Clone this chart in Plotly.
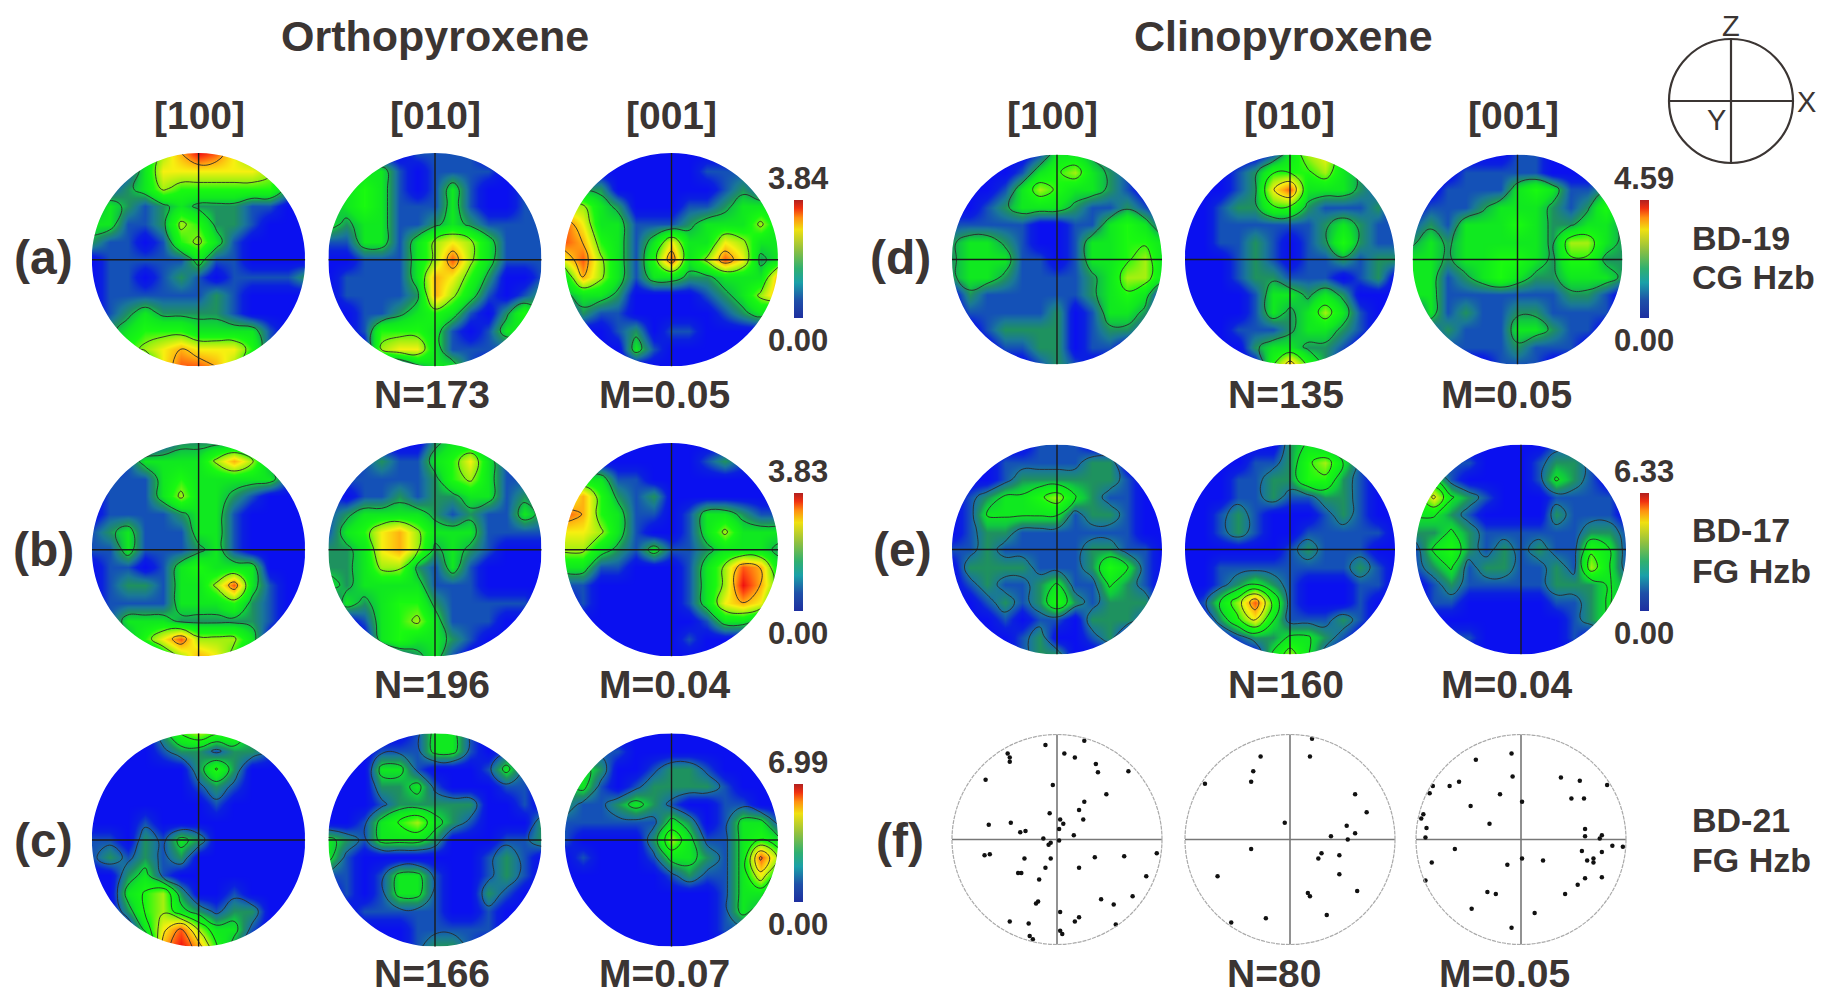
import numpy as np
import plotly.graph_objects as go

# the page body keeps an 8px margin, so the figure is that much smaller than the window
OFF = 8
W, H = 1827 - OFF, 999 - OFF

# density on a 13x13 net, top row first, as tenths-ish of each row's max (0-9)
A_100 = ["0003579864200","0013666666530","1123544444421","2321232221100","3311254221000","2110145310000",
         "0111113110000","0110121011112","0111111210000","0123222210000","0234443333100","0145676664100","0002688752000"]
A_010 = ["0000011110000","0033101111000","1343101310010","2343111310011","3233112321111","1133135653111",
         "0011135853111","0111137642001","0111127531012","0011234310242","0014443101330","0005663111100","0000023310000"]
A_001 = ["0000000000000","0000000011100","0220000001210","5532000112333","8633111233353","8743136336533",
         "6853148358623","3753133223337","2332000012357","0211000001231","0001201100000","0000310000000","0000000000000"]
B_100 = ["0000122221000","0013333575200","0111343333310","0111353321000","0111123310000","1231113310000",
         "1131112310000","0110134333000","0122133583100","0111133342100","0133322222100","0024685553000","0000357642000"]
B_010 = ["0000002331000","0012113463100","0111112453110","1011212233121","1233332121132","1346753331111",
         "2236752321000","2235521310000","3233331110000","0323442111110","0013453111000","0003433210000","0000123100000"]
B_001 = ["0000000000000","0000000012100","1331100000000","5742120000000","8743110133211","6653100135333",
         "5532131123332","3311000135873","1100000135974","0100000136762","0000000013320","0000000100000","0000000000000"]
C_100 = ["0000245442000","0000122122100","0000002420000","0000001210000","0000000100000","0001000000000",
         "1102132000000","1212120000000","0023100000000","0034520010000","0024532122000","0003685331000","0000797420000"]
C_010 = ["0000013310000","0001113310110","0003310001310","0002231000110","0001222220010","0013453210002",
         "3213332000112","3100000001210","1101331001210","0101331002100","0011111001000","0000011111000","0000012210000"]
C_001 = ["0000000000000","0011000000000","0320012210000","2310122221000","2112321001100","1111113201331",
         "1000025311343","0100013321385","0000001211363","0000000001331","0000000001320","0000000001100","0000000000000"]
D_100 = ["0000013321000","0000134532100","0001354332100","0012333211210","1111100113431","2332100133443",
         "2333110133453","2332111123553","0211111123430","0111112013320","0012222012210","0001122011000","0000012100000"]
D_010 = ["0000013563000","0001244453200","0001268333210","0012244211120","0011111123211","0011210124211",
         "0001210112122","0001221110120","0000133232000","0000132353100","0001112332100","0000233221000","0000047420000"]
D_001 = ["0000001100000","0001111100000","0011113431121","0111233321242","1213334322332","2323333325532",
         "3323344324422","3312343223332","3311111112210","0312112211110","0121113321100","0011112111000","0000011100000"]
E_100 = ["0000011100000","0001111122000","0001222222100","0123345321100","0133333122100","0122111111100",
         "1121111122110","0222211124310","0121123113210","0012124212220","0001011022210","0000120012000","0000122000000"]
E_010 = ["0000002321000","0000112453100","0001122442100","0001121122100","0012100012100","0012100111110",
         "0000001211100","0011111111210","0012321000110","0135841000100","0024631112100","0001223321000","0000035310000"]
E_001 = ["0000000011000","0011000122100","1310000132100","3632100011110","3321000021110","2232111111221",
         "1342121211431","1231221121531","0121111122232","0110000011232","0000000001230","0011000001000","0000000000000"]

# pole positions for the BD-21 panel, percent of net radius
F_100_X = [-11,26,-47,-45,-45,7,17,37,39,68,-68,-4,47,26,21,-7,3,6,25,2,-65,-44,-35,-30,16,-13,2,-6,-8,95,-64,-69,-31,-6,36,64,-11,21,-37,-34,-17,85,72,-18,-20,42,54,3,21,17,-45,-27,56,-26,-23,3,5]
F_100_Y = [90,94,82,78,74,82,78,72,64,65,57,52,43,36,28,25,19,15,19,10,14,16,7,8,4,1,-1,-3,-5,-13,-14,-15,-18,-18,-17,-16,-27,-27,-32,-32,-38,-35,-54,-59,-61,-57,-62,-69,-74,-78,-78,-80,-81,-92,-95,-87,-90]
F_010_X = [21,-28,19,-35,-37,-81,62,73,-5,54,62,39,55,-37,30,27,47,-69,47,64,17,19,35,-23,-56]
F_010_Y = [96,79,79,65,55,53,43,26,16,13,6,3,0,-9,-13,-18,-15,-35,-33,-49,-51,-54,-72,-75,-79]
F_001_X = [-9,-43,-8,38,56,82,-59,-68,-84,-87,-20,48,60,1,-48,-93,-95,-30,-90,-91,61,61,77,75,-63,87,97,58,77,69,63,69,1,21,-85,-13,77,61,54,42,-91,-32,-24,-47,13,-9]
F_001_Y = [82,76,60,59,56,52,55,51,51,44,43,39,39,36,32,24,20,15,11,2,10,3,4,1,-9,-6,-7,-11,-12,-18,-20,-22,-18,-20,-22,-24,-36,-37,-43,-52,-39,-50,-52,-66,-70,-84]

MAX_ABC = [3.84, 3.83, 6.99]
MAX_DE = [4.59, 6.33]

map_scale = [[0, "#0a10f0"], [0.06, "#0a20e0"], [0.11, "#1450b8"], [0.16, "#1a7898"], [0.22, "#1f9060"], [0.27, "#10c840"], [0.33, "#10e820"], [0.44, "#18fa10"],
             [0.55, "#a0f010"], [0.67, "#f8f010"], [0.78, "#ffb010"], [0.9, "#ff5010"], [1, "#f01010"]]
bar_scale = [[0, "#1e2fa0"], [0.15, "#1f50a8"], [0.3, "#1aa0a8"], [0.42, "#30b070"], [0.58, "#90c040"], [0.75, "#f0e010"],
             [0.85, "#ff9010"], [0.93, "#f03010"], [1, "#b02020"]]

TXT = "#3b3533"
FONT = "Liberation Sans"

fig = go.Figure()
axis_n = 0


def new_axes(cx, cy, r, pad=1.04):
    # a square axes centred on pixel (cx, cy) where data radius 1 is r pixels
    global axis_n
    axis_n += 1
    s = "" if axis_n == 1 else str(axis_n)
    cx, cy = cx - OFF, cy - OFF
    fig.layout["xaxis" + s] = dict(domain=[(cx - pad * r) / W, (cx + pad * r) / W], range=[-pad, pad], visible=False, anchor="y" + s)
    fig.layout["yaxis" + s] = dict(domain=[1 - (cy + pad * r) / H, 1 - (cy - pad * r) / H], range=[-pad, pad], visible=False, anchor="x" + s)
    return "x" + s, "y" + s


def circle_mask(xref, yref, pad=1.04):
    k = 0.5523
    p = (f"M{-pad},{-pad} L{pad},{-pad} L{pad},{pad} L{-pad},{pad} Z "
         f"M1,0 C1,{k} {k},1 0,1 C{-k},1 -1,{k} -1,0 C-1,{-k} {-k},-1 0,-1 C{k},-1 1,{-k} 1,0 Z")
    fig.add_shape(type="path", path=p, xref=xref, yref=yref, fillcolor="white", line=dict(width=0), layer="above")


def cross(xa, ya, color, width):
    fig.add_trace(go.Scatter(x=[-1, 1, None, 0, 0], y=[0, 0, None, -1, 1], mode="lines", line=dict(color=color, width=width),
                             xaxis=xa, yaxis=ya, hoverinfo="skip", showlegend=False))


def density_panel(rows, vmax, cx, cy, r, start=1):
    for row in rows:
        assert len(row) == 13, row
    xa, ya = new_axes(cx, cy, r)
    net = np.linspace(-1, 1, 13)
    z = [[int(c) / 9 * vmax for c in row] for row in rows[::-1]]
    fig.add_trace(go.Contour(x=net, y=net, z=z, zmin=0, zmax=vmax, colorscale=map_scale, showscale=False,
                             contours=dict(coloring="heatmap", start=start, end=vmax, size=1),
                             line=dict(color="#2a2a2a", width=0.9, smoothing=1.3), xaxis=xa, yaxis=ya))
    circle_mask(xa, ya)
    cross(xa, ya, "#1a1a1a", 1.4)


def scatter_panel(px, py, cx, cy, r):
    xa, ya = new_axes(cx, cy, r)
    fig.add_shape(type="circle", x0=-1, y0=-1, x1=1, y1=1, xref=xa, yref=ya, line=dict(color="#aaaaaa", width=1.2, dash="4px,1px"))
    cross(xa, ya, "#777777", 1.6)
    fig.add_trace(go.Scatter(x=np.array(px) / 100, y=np.array(py) / 100, mode="markers", marker=dict(color="#111111", size=4.5),
                             xaxis=xa, yaxis=ya, showlegend=False))


def colorbar(vmax, x, y0, y1, thick=9):
    xa, ya = new_axes(x, y0, 1)
    fig.add_trace(go.Scatter(x=[0, 0], y=[0, 0], mode="markers", xaxis=xa, yaxis=ya, showlegend=False, opacity=0,
                             marker=dict(color=[0, vmax], cmin=0, cmax=vmax, colorscale=bar_scale, showscale=True,
                                         colorbar=dict(x=(x - OFF) / W, xanchor="left", xpad=0, y=1 - (y1 - OFF) / H, yanchor="bottom", ypad=0,
                                                       len=y1 - y0, lenmode="pixels", thickness=thick, thicknessmode="pixels",
                                                       outlinewidth=0, showticklabels=False, ticks=""))))


def label(x, y, text, size, bold=True, anchor="center", color=TXT):
    t = f"<b>{text}</b>" if bold else text
    fig.add_annotation(x=(x - OFF) / W, y=1 - (y - OFF) / H, xref="paper", yref="paper", text=t, showarrow=False, xanchor=anchor, yanchor="middle",
                       font=dict(family=FONT, size=size, color=color))


# Orthopyroxene
for rows, vmax, cy in zip([[A_100, A_010, A_001], [B_100, B_010, B_001], [C_100, C_010, C_001]], MAX_ABC, [259.7, 549.7, 840]):
    for g, cx in zip(rows, [198.6, 435, 671.5]):
        density_panel(g, vmax, cx, cy, 106.7)

# Clinopyroxene
density_panel(D_100, MAX_DE[0], 1057, 259.5, 105, start=1.15)
density_panel(D_010, MAX_DE[0], 1290, 259.5, 105, start=1.15)
density_panel(D_001, MAX_DE[0], 1517.5, 259.5, 105, start=1.15)
density_panel(E_100, MAX_DE[1], 1057, 549.5, 105)
density_panel(E_010, MAX_DE[1], 1290, 549.5, 105)
density_panel(E_001, MAX_DE[1], 1521, 549.5, 105)
scatter_panel(F_100_X, F_100_Y, 1057, 839.5, 105)
scatter_panel(F_010_X, F_010_Y, 1290, 839.5, 105)
scatter_panel(F_001_X, F_001_Y, 1521, 839.5, 105)

colorbar(MAX_ABC[0], 794, 200, 318)
colorbar(MAX_ABC[1], 794, 493, 611)
colorbar(MAX_ABC[2], 794, 784, 902)
colorbar(MAX_DE[0], 1640, 200, 318)
colorbar(MAX_DE[1], 1640, 493, 611)

# coordinate key at top right
xa, ya = new_axes(1731, 101, 62)
fig.add_shape(type="circle", x0=-1, y0=-1, x1=1, y1=1, xref=xa, yref=ya, line=dict(color=TXT, width=2.2))
cross(xa, ya, TXT, 2.2)

label(435, 36, "Orthopyroxene", 43)
label(1283, 36, "Clinopyroxene", 43)
for x, t in zip([199, 435, 671, 1052, 1289, 1513], ["[100]", "[010]", "[001]"] * 2):
    label(x, 115, t, 39)
for x, y, t in zip([43, 43, 43, 900, 902, 900], [258, 549, 840, 258, 549, 840], ["(a)", "(b)", "(c)", "(d)", "(e)", "(f)"]):
    label(x, y, t, 48)
for x, y, t in [(432, 394, "N=173"), (664, 394, "M=0.05"), (432, 684, "N=196"), (664, 684, "M=0.04"), (432, 973, "N=166"), (664, 973, "M=0.07"),
                (1286, 394, "N=135"), (1506, 394, "M=0.05"), (1286, 684, "N=160"), (1506, 684, "M=0.04"), (1274, 973, "N=80"), (1504, 973, "M=0.05")]:
    label(x, y, t, 39)
for x, ytop, ybot, vtop in [(798, 179, 341, "3.84"), (798, 471, 633, "3.83"), (798, 762, 924, "6.99"), (1644, 179, 341, "4.59"), (1644, 471, 633, "6.33")]:
    label(x, ytop, vtop, 31)
    label(x, ybot, "0.00", 31)
for y, t in [(238, "BD-19"), (277, "CG Hzb"), (530, "BD-17"), (571, "FG Hzb"), (820, "BD-21"), (860, "FG Hzb")]:
    label(1690, y, t, 34, anchor="left")
label(1731, 26, "Z", 29, bold=False)
label(1806, 102, "X", 29, bold=False)
label(1716, 120, "Y", 29, bold=False)

fig.update_layout(width=W, height=H, margin=dict(l=0, r=0, t=0, b=0, autoexpand=False), paper_bgcolor="white", plot_bgcolor="white", showlegend=False)

fig.write_html("out.html")
